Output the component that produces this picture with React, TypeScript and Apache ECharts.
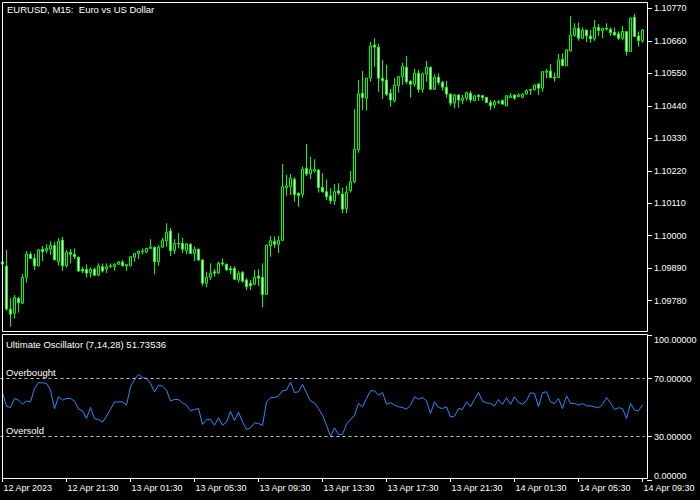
import React, { useEffect, useRef } from "react";
import * as echarts from "echarts";

// ---- chart texts ----
const symbolTitle = "EURUSD, M15:  Euro vs US Dollar";
const oscName = "Ultimate Oscillator (7,14,28)";
const overboughtLabel = "Overbought";
const oversoldLabel = "Oversold";

// ---- time axis ----
const firstBarUtc = Date.UTC(2023, 3, 12, 17, 30);
const barMinutes = 15;
const labelEvery = 16;
const timeLabels = [
  "12 Apr 2023",
  "12 Apr 21:30",
  "13 Apr 01:30",
  "13 Apr 05:30",
  "13 Apr 09:30",
  "13 Apr 13:30",
  "13 Apr 17:30",
  "13 Apr 21:30",
  "14 Apr 01:30",
  "14 Apr 05:30",
  "14 Apr 09:30",
];

// ---- value axes ----
const priceTicks = [1.0978, 1.0989, 1.1, 1.1011, 1.1022, 1.1033, 1.1044, 1.1055, 1.1066, 1.1077];
const priceMin = 1.09677;
const priceMax = 1.10792;
const oscTicks = [0, 30, 70, 100];
const overboughtLevel = 70;
const oversoldLevel = 30;

// ---- EURUSD M15 bars ----
const opens = [
  1.09911, 1.09897, 1.09751, 1.09737, 1.09788, 1.09771, 1.09859, 1.09937, 1.09923, 1.09898,
  1.09954, 1.09949, 1.09954, 1.09967, 1.09912, 1.09985, 1.09898, 1.09944, 1.09937, 1.09927,
  1.09886, 1.09886, 1.09875, 1.09886, 1.09866, 1.09895, 1.09887, 1.09895, 1.09895, 1.09903,
  1.09911, 1.09898, 1.09898, 1.09927, 1.0994, 1.09946, 1.09944, 1.09957, 1.09961, 1.09912,
  1.09961, 1.09983, 1.10016, 1.09949, 1.09974, 1.09974, 1.09949, 1.09971, 1.0994, 1.09954,
  1.09918, 1.09839, 1.09859, 1.09878, 1.09873, 1.09908, 1.09903, 1.09889, 1.09889, 1.0985,
  1.09875, 1.0985, 1.09839, 1.09835, 1.09863, 1.09859, 1.09801, 1.09966, 1.09981, 1.09971,
  1.09984, 1.10163, 1.10166, 1.10191, 1.10144, 1.1014, 1.10228, 1.10209, 1.10219, 1.10223,
  1.10164, 1.10149, 1.10135, 1.10118, 1.10152, 1.10141, 1.10092, 1.10153, 1.10183, 1.10291,
  1.10483, 1.10466, 1.10534, 1.10646, 1.10639, 1.10534, 1.10528, 1.10483, 1.10457, 1.10509,
  1.10539, 1.10571, 1.10524, 1.10513, 1.10551, 1.10496, 1.10548, 1.10571, 1.10496, 1.10537,
  1.1052, 1.10503, 1.1048, 1.10449, 1.10477, 1.10458, 1.10466, 1.10483, 1.10458, 1.10476,
  1.10475, 1.10469, 1.10451, 1.10443, 1.10451, 1.10458, 1.1044, 1.10468, 1.10477, 1.10471,
  1.10469, 1.1048, 1.10492, 1.10494, 1.10514, 1.105, 1.10554, 1.10558, 1.10537, 1.10536,
  1.10598, 1.10576, 1.10626, 1.10678, 1.10703, 1.10669, 1.10697, 1.10677, 1.10667, 1.10706,
  1.10695, 1.10703, 1.107, 1.1069, 1.10684, 1.10669, 1.10692, 1.10624, 1.1074, 1.10677,
  1.10661,
];
const highs = [
  1.09921, 1.09952, 1.09788, 1.09799, 1.09793, 1.0987, 1.09948, 1.09946, 1.09938, 1.09955,
  1.09965, 1.09971, 1.09982, 1.09978, 1.09992, 1.09996, 1.09952, 1.09955, 1.09957, 1.09929,
  1.09895, 1.09903, 1.09892, 1.09892, 1.09906, 1.09906, 1.09906, 1.09906, 1.09906, 1.09914,
  1.09918, 1.09904, 1.09931, 1.09941, 1.09949, 1.09957, 1.09958, 1.09988, 1.09963, 1.09968,
  1.09993, 1.10042, 1.10026, 1.09988, 1.10009, 1.09993, 1.09976, 1.09974, 1.09963, 1.09957,
  1.09921, 1.09878, 1.09906, 1.09887, 1.09912, 1.09923, 1.09906, 1.09897, 1.09897, 1.09881,
  1.0988, 1.09856, 1.0985, 1.09884, 1.09886, 1.09906, 1.0997, 1.09999, 1.09997, 1.09999,
  1.10243, 1.10206, 1.10209, 1.10198, 1.10146, 1.10234, 1.10311, 1.10268, 1.10259, 1.10225,
  1.10212, 1.10191, 1.10161, 1.10175, 1.10178, 1.10163, 1.10169, 1.10219, 1.10429, 1.10528,
  1.10558, 1.10535, 1.10657, 1.10669, 1.1065, 1.10596, 1.10579, 1.10497, 1.10534, 1.10541,
  1.10586, 1.10609, 1.10526, 1.10565, 1.10562, 1.10553, 1.10592, 1.10573, 1.10547, 1.10551,
  1.10524, 1.10524, 1.10482, 1.1048, 1.1048, 1.10477, 1.10488, 1.10491, 1.10477, 1.1048,
  1.10477, 1.1047, 1.1046, 1.1046, 1.1046, 1.10462, 1.10477, 1.10483, 1.10478, 1.10483,
  1.10483, 1.10496, 1.10497, 1.10512, 1.10517, 1.10558, 1.10565, 1.10582, 1.10553, 1.10616,
  1.10618, 1.10631, 1.10745, 1.1072, 1.10723, 1.10706, 1.10698, 1.10697, 1.10731, 1.10718,
  1.10704, 1.1072, 1.10706, 1.10705, 1.10692, 1.10711, 1.10693, 1.1074, 1.10752, 1.10692,
  1.107,
];
const lows = [
  1.09894, 1.09746, 1.09692, 1.0972, 1.09739, 1.09768, 1.09841, 1.09921, 1.09884, 1.09896,
  1.09914, 1.0994, 1.09935, 1.09916, 1.09898, 1.09881, 1.09892, 1.09906, 1.09921, 1.09878,
  1.09873, 1.09858, 1.09858, 1.09863, 1.09863, 1.09875, 1.09873, 1.09891, 1.09881, 1.09901,
  1.09895, 1.09881, 1.09896, 1.09912, 1.09921, 1.09937, 1.09941, 1.09956, 1.09869, 1.09898,
  1.09958, 1.09963, 1.09931, 1.09938, 1.09957, 1.09942, 1.09937, 1.09938, 1.09914, 1.09914,
  1.0983, 1.09825, 1.0985, 1.09861, 1.0987, 1.09897, 1.09881, 1.0987, 1.0985, 1.09841,
  1.09841, 1.09816, 1.09816, 1.09833, 1.0983, 1.09757, 1.09799, 1.09929, 1.09959, 1.09942,
  1.09982, 1.10135, 1.10138, 1.10115, 1.10098, 1.10129, 1.10202, 1.10192, 1.10214, 1.10146,
  1.10146, 1.10121, 1.10107, 1.10104, 1.10138, 1.10076, 1.10076, 1.10146, 1.10178, 1.10281,
  1.10426, 1.10424, 1.10522, 1.10573, 1.10488, 1.10463, 1.10474, 1.10437, 1.10451, 1.10485,
  1.10511, 1.10514, 1.10468, 1.10505, 1.10485, 1.10485, 1.10522, 1.10494, 1.10494, 1.10511,
  1.10492, 1.10468, 1.1044, 1.10432, 1.10434, 1.10446, 1.10457, 1.10451, 1.10456, 1.10457,
  1.10458, 1.1045, 1.10426, 1.10432, 1.10446, 1.10443, 1.10439, 1.10467, 1.1046, 1.1047,
  1.10466, 1.10479, 1.10477, 1.10492, 1.10477, 1.10488, 1.10534, 1.10534, 1.10522, 1.10535,
  1.10575, 1.10575, 1.10624, 1.10675, 1.10661, 1.10666, 1.10656, 1.10654, 1.1066, 1.10677,
  1.10669, 1.10695, 1.10677, 1.10678, 1.10663, 1.10663, 1.1061, 1.10623, 1.10674, 1.10641,
  1.10654,
];
const closes = [
  1.09904, 1.09751, 1.09734, 1.09791, 1.09773, 1.09859, 1.09938, 1.09923, 1.09898, 1.09952,
  1.09946, 1.09957, 1.09967, 1.09918, 1.09981, 1.09898, 1.09944, 1.09937, 1.09929, 1.0988,
  1.0988, 1.09873, 1.09886, 1.09866, 1.09898, 1.0988, 1.09895, 1.09898, 1.09903, 1.09911,
  1.09898, 1.09903, 1.09929, 1.0994, 1.09948, 1.09948, 1.09957, 1.09961, 1.09912, 1.09961,
  1.09985, 1.10011, 1.09949, 1.09974, 1.09972, 1.09954, 1.09972, 1.0994, 1.09954, 1.09918,
  1.09839, 1.09859, 1.09873, 1.09873, 1.09906, 1.09904, 1.09884, 1.09884, 1.09852, 1.09873,
  1.09846, 1.09827, 1.0983, 1.09859, 1.09856, 1.09801, 1.09968, 1.09983, 1.09971, 1.09984,
  1.10166, 1.10169, 1.10195, 1.1014, 1.10136, 1.10226, 1.10209, 1.10225, 1.10225, 1.10163,
  1.10149, 1.10132, 1.10118, 1.10149, 1.10144, 1.1009, 1.10147, 1.10183, 1.10293, 1.1048,
  1.10468, 1.10534, 1.10643, 1.10639, 1.10534, 1.10525, 1.10479, 1.1046, 1.10511, 1.10539,
  1.10575, 1.10522, 1.10513, 1.10551, 1.10496, 1.10548, 1.10571, 1.10496, 1.10537, 1.10519,
  1.10503, 1.1048, 1.10449, 1.10477, 1.1046, 1.10466, 1.10485, 1.1046, 1.10474, 1.10471,
  1.10468, 1.10451, 1.1044, 1.10454, 1.10454, 1.10446, 1.10474, 1.10474, 1.10466, 1.10477,
  1.1048, 1.10492, 1.10496, 1.10511, 1.105, 1.10556, 1.10558, 1.10536, 1.10534, 1.10596,
  1.10576, 1.1063, 1.1068, 1.10703, 1.10669, 1.10697, 1.10677, 1.10667, 1.10706, 1.10695,
  1.10703, 1.107, 1.10688, 1.1068, 1.10669, 1.10692, 1.10624, 1.10737, 1.10675, 1.10661,
  1.10697,
];

// ---- Ultimate Oscillator (7,14,28) ----
const uoValues = [
  60.1, 50.9, 50.0, 56.2, 55.1, 52.3, 54.6, 53.9, 63.1, 67.2,
  67.0, 66.6, 62.0, 49.1, 57.4, 55.1, 56.2, 56.2, 54.4, 48.9,
  47.7, 42.4, 50.0, 42.2, 41.7, 39.9, 44.0, 48.9, 53.7, 53.9,
  53.9, 51.6, 64.3, 69.3, 72.8, 70.7, 70.0, 66.6, 60.6, 65.4,
  64.7, 62.0, 54.6, 55.5, 55.5, 53.2, 51.6, 47.7, 48.6, 49.3,
  38.3, 41.7, 41.7, 37.8, 42.9, 37.8, 39.8, 47.3, 41.0, 46.8,
  40.1, 34.8, 36.0, 39.4, 39.0, 37.6, 53.9, 56.7, 56.9, 58.0,
  61.5, 62.0, 67.5, 60.3, 60.8, 65.9, 60.1, 54.6, 53.2, 49.3,
  44.7, 37.8, 30.2, 36.0, 31.4, 31.4, 38.5, 41.7, 44.5, 52.8,
  50.5, 56.2, 61.5, 61.5, 58.5, 60.3, 52.3, 53.4, 51.6, 50.5,
  50.0, 48.9, 51.6, 57.4, 55.7, 56.9, 54.6, 45.9, 53.9, 50.0,
  49.3, 50.5, 43.5, 44.0, 49.3, 48.6, 53.9, 50.5, 55.5, 60.3,
  54.4, 53.2, 52.8, 51.1, 55.5, 52.1, 56.9, 52.1, 57.4, 53.4,
  52.3, 54.6, 60.1, 59.7, 50.5, 60.3, 60.8, 53.9, 52.8, 56.2,
  49.3, 58.0, 52.8, 52.8, 51.6, 52.8, 51.1, 51.1, 50.5, 49.8,
  52.1, 56.9, 53.2, 48.6, 49.8, 49.3, 42.4, 52.8, 48.2, 47.7,
  51.73536,
];

const FONT = '"Liberation Sans", Arial, sans-serif';
const FG = "#ffffff";
const CANDLE = "#00ff00";
const OSC_LINE = "#1e90ff";
const LEVEL = "#c8c8c8";

const MONTHS = ["Jan", "Feb", "Mar", "Apr", "May", "Jun", "Jul", "Aug", "Sep", "Oct", "Nov", "Dec"];
const pad2 = (n: number) => (n < 10 ? "0" + n : String(n));

function barTimes(): string[] {
  const out: string[] = [];
  for (let i = 0; i < opens.length; i++) {
    const d = new Date(firstBarUtc + i * barMinutes * 60000);
    out.push(
      `${d.getUTCDate()} ${MONTHS[d.getUTCMonth()]} ${pad2(d.getUTCHours())}:${pad2(d.getUTCMinutes())}`
    );
  }
  return out;
}

function buildOption(): echarts.EChartsOption {
  const categories = barTimes();
  const candles = opens.map((o, i) => [o, closes[i], lows[i], highs[i]]);
  const lastUo = uoValues[uoValues.length - 1];
  const showEvery = (index: number) => index % labelEvery === 0;

  const textStyle = (text: string, x: number, y: number, size = 9.5) => ({
    type: "text" as const,
    x,
    y,
    silent: true,
    style: {
      text,
      fill: FG,
      fontSize: size,
      fontFamily: FONT,
      verticalAlign: "middle" as const,
      align: "left" as const,
    },
    z: 100,
  });

  return {
    animation: false,
    backgroundColor: "#000000",
    grid: [
      { left: 0.5, top: 2, width: 644, height: 329 },
      { left: 0.5, top: 335, width: 644, height: 145 },
    ],
    xAxis: [
      {
        type: "category",
        gridIndex: 0,
        data: categories,
        boundaryGap: true,
        show: false,
      },
      {
        type: "category",
        gridIndex: 1,
        data: categories,
        boundaryGap: true,
        offset: -2,
        axisLine: { show: false },
        axisTick: {
          show: true,
          alignWithLabel: true,
          interval: (index: number) => showEvery(index),
          length: 4,
          lineStyle: { color: FG, width: 1 },
        },
        axisLabel: {
          interval: (index: number) => showEvery(index),
          formatter: (_v: string, index: number) => timeLabels[Math.round(index / labelEvery)] ?? "",
          align: "left",
          color: FG,
          fontSize: 9,
          fontFamily: FONT,
          margin: 5,
          padding: [0, 0, 0, 1],
        },
        splitLine: { show: false },
      },
    ],
    yAxis: [
      {
        type: "value",
        gridIndex: 0,
        position: "right",
        offset: 2.5,
        min: priceMin,
        max: priceMax,
        scale: true,
        axisLine: { show: false },
        splitLine: { show: false },
        axisTick: {
          show: true,
          length: 5,
          customValues: priceTicks,
          lineStyle: { color: FG, width: 1 },
        },
        axisLabel: {
          customValues: priceTicks,
          formatter: (v: number) => v.toFixed(5),
          color: FG,
          fontSize: 9,
          fontFamily: FONT,
          margin: 7,
        },
      },
      {
        type: "value",
        gridIndex: 1,
        position: "right",
        offset: 2.5,
        min: 0,
        max: 100,
        axisLine: { show: false },
        splitLine: { show: false },
        axisTick: {
          show: true,
          length: 5,
          customValues: oscTicks,
          lineStyle: { color: FG, width: 1 },
        },
        axisLabel: {
          customValues: oscTicks,
          formatter: (v: number) => v.toFixed(5),
          color: FG,
          fontSize: 9,
          fontFamily: FONT,
          margin: 7,
          verticalAlignMinLabel: "bottom",
          verticalAlignMaxLabel: "top",
        } as any,
      },
    ],
    series: [
      {
        type: "candlestick",
        name: "EURUSD",
        xAxisIndex: 0,
        yAxisIndex: 0,
        data: candles,
        barWidth: 2,
        itemStyle: {
          color: "#000000",
          color0: "#ffffff",
          borderColor: CANDLE,
          borderColor0: CANDLE,
          borderColorDoji: CANDLE,
          borderWidth: 1,
        } as any,
      },
      {
        type: "line",
        name: oscName,
        xAxisIndex: 1,
        yAxisIndex: 1,
        data: uoValues,
        showSymbol: false,
        symbol: "none",
        lineStyle: { color: OSC_LINE, width: 1 },
        markLine: {
          silent: true,
          symbol: "none",
          label: { show: false },
          lineStyle: { color: LEVEL, width: 1, type: [3, 3] },
          data: [{ yAxis: overboughtLevel }, { yAxis: oversoldLevel }],
        },
      },
    ],
    graphic: [
      {
        type: "rect",
        silent: true,
        z: 90,
        shape: { x: 2.5, y: 2.5, width: 645, height: 329 },
        style: { fill: "none", stroke: FG, lineWidth: 1 },
      },
      {
        type: "rect",
        silent: true,
        z: 90,
        shape: { x: 2.5, y: 334.5, width: 645, height: 144 },
        style: { fill: "none", stroke: FG, lineWidth: 1 },
      },
      textStyle(symbolTitle, 7, 9.7),
      textStyle(`${oscName} ${lastUo.toFixed(5)}`, 6, 344.7),
      textStyle(overboughtLabel, 6, 372),
      textStyle(oversoldLabel, 6, 430),
    ],
  };
}

export default function App() {
  const ref = useRef<HTMLDivElement>(null);

  useEffect(() => {
    if (!ref.current) return;
    document.body.style.margin = "0";
    document.body.style.background = "#000";
    const chart = echarts.init(ref.current, undefined, { renderer: "svg" });
    chart.setOption(buildOption());
    return () => chart.dispose();
  }, []);

  return (
    <div
      ref={ref}
      style={{ position: "absolute", left: 0, top: 0, width: 700, height: 500, background: "#000" }}
    />
  );
}
